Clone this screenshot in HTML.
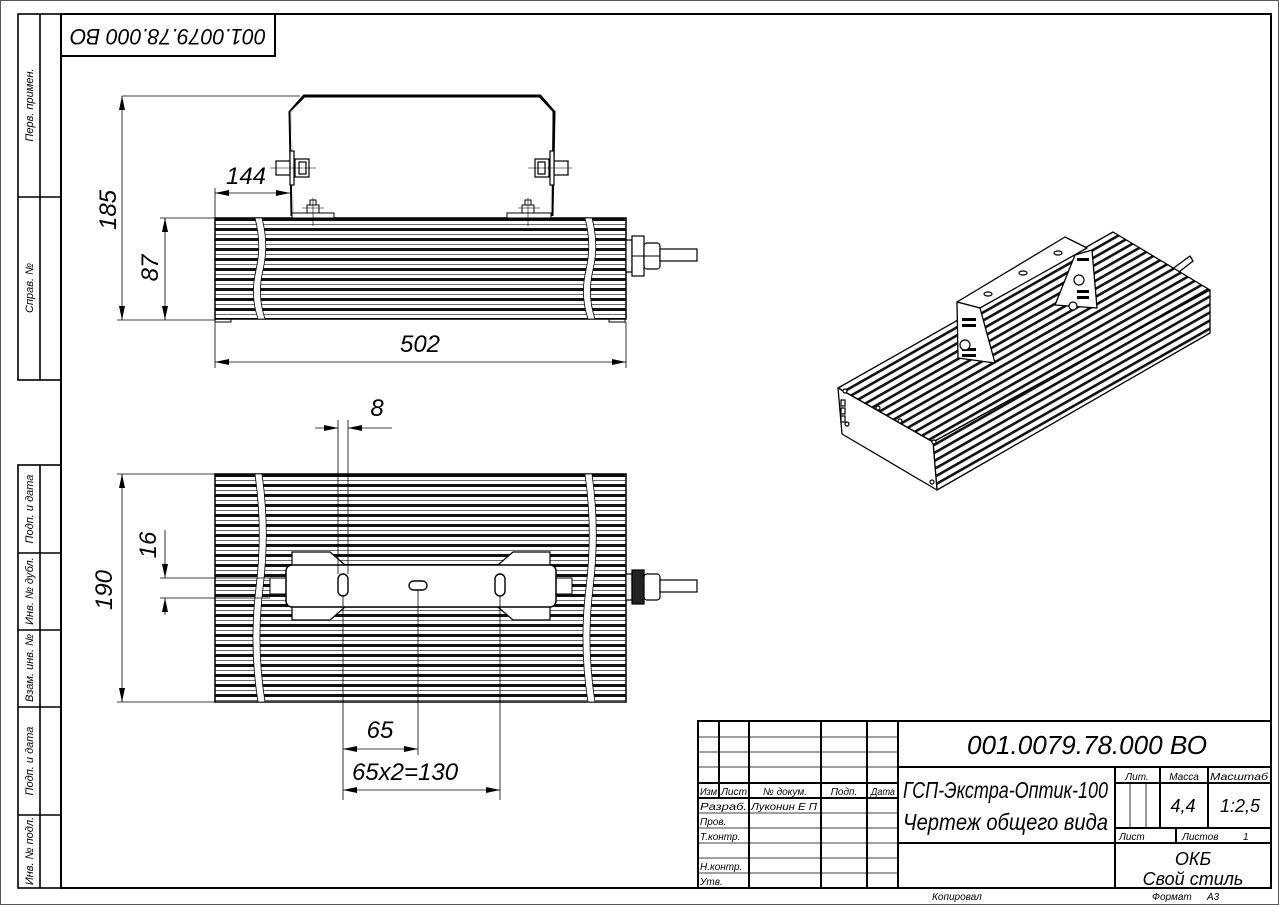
<!DOCTYPE html>
<html><head><meta charset="utf-8"><style>
html,body{margin:0;padding:0;background:#fff;}
svg{display:block;}
text{font-family:"Liberation Sans Narrow","Liberation Sans",sans-serif;font-style:italic;fill:#000;}
</style></head><body>
<svg width="1279" height="905" viewBox="0 0 1279 905" xmlns="http://www.w3.org/2000/svg">
<defs>
<pattern id="fins" x="0" y="218" width="10" height="10" patternUnits="userSpaceOnUse">
<rect width="10" height="10" fill="#fff"/><rect y="0" width="10" height="3" fill="#111"/><rect y="6" width="10" height="0.8" fill="#444"/>
</pattern>
<pattern id="fins2" x="0" y="474" width="10" height="10" patternUnits="userSpaceOnUse">
<rect width="10" height="10" fill="#fff"/><rect y="0" width="10" height="3" fill="#111"/><rect y="6" width="10" height="0.8" fill="#444"/>
</pattern>
<pattern id="iso" width="7" height="7" patternUnits="userSpaceOnUse" patternTransform="rotate(-29.6)">
<rect width="7" height="7" fill="#fff"/><rect width="7" height="2.6" fill="#111"/>
</pattern>
</defs>
<rect x="0.5" y="0.5" width="1278" height="904" fill="none" stroke="#555"/>
<rect x="61" y="14" width="1210" height="874" fill="none" stroke="#000" stroke-width="2"/>
<g stroke="#000" stroke-width="1.6" fill="none">
<rect x="18" y="14" width="43" height="366"/>
<line x1="40" y1="14" x2="40" y2="380"/>
<line x1="18" y1="197" x2="61" y2="197"/>
<rect x="18" y="465" width="43" height="423"/>
<line x1="40" y1="465" x2="40" y2="888"/>
<line x1="18" y1="553" x2="61" y2="553"/>
<line x1="18" y1="630" x2="61" y2="630"/>
<line x1="18" y1="707" x2="61" y2="707"/>
<line x1="18" y1="815" x2="61" y2="815"/>
</g>
<g font-size="11">
<text transform="translate(33,105) rotate(-90)" text-anchor="middle">Перв. примен.</text>
<text transform="translate(33,288) rotate(-90)" text-anchor="middle">Справ. №</text>
<text transform="translate(33,509) rotate(-90)" text-anchor="middle">Подп. и дата</text>
<text transform="translate(33,591) rotate(-90)" text-anchor="middle">Инв. № дубл.</text>
<text transform="translate(33,668) rotate(-90)" text-anchor="middle">Взам. инв. №</text>
<text transform="translate(33,761) rotate(-90)" text-anchor="middle">Подп. и дата</text>
<text transform="translate(33,851) rotate(-90)" text-anchor="middle">Инв. № подл.</text>
</g>
<rect x="61" y="14" width="214" height="42" fill="none" stroke="#000" stroke-width="2"/>
<text transform="translate(168,35) rotate(180)" text-anchor="middle" dominant-baseline="middle" font-size="22" textLength="196" lengthAdjust="spacingAndGlyphs">001.0079.78.000 ВО</text>

<!-- SIDE VIEW -->
<rect x="215" y="218" width="411" height="101" fill="url(#fins)" stroke="#000" stroke-width="1.5"/>
<path d="M255 218 Q262 245 256 270 Q250 295 258 319 L265 319 Q257 295 263 270 Q269 245 262 218 Z" fill="#fff" stroke="#000" stroke-width="0.8"/>
<path d="M585 218 Q592 245 586 270 Q580 295 588 319 L595 319 Q587 295 593 270 Q599 245 592 218 Z" fill="#fff" stroke="#000" stroke-width="0.8"/>
<rect x="215" y="319" width="16" height="3" fill="none" stroke="#000"/>
<rect x="609" y="319" width="16" height="3" fill="none" stroke="#000"/>
<path d="M292 216 L290 112 L304 96 L540 96 L554 112 L552 216" fill="none" stroke="#000" stroke-width="3"/>
<path d="M293 216 L291 112 L305 98 L539 98 L552 112 L551 216" fill="none" stroke="#fff" stroke-width="1"/>
<rect x="292" y="213" width="42" height="5" fill="#fff" stroke="#000"/>
<rect x="507" y="213" width="44" height="5" fill="#fff" stroke="#000"/>
<rect x="307" y="205" width="12" height="8" fill="#fff" stroke="#000"/><rect x="310" y="200" width="6" height="5" fill="#fff" stroke="#000"/>
<rect x="522" y="205" width="12" height="8" fill="#fff" stroke="#000"/><rect x="525" y="200" width="6" height="5" fill="#fff" stroke="#000"/>
<g stroke="#000" stroke-width="0.6"><line x1="313" y1="198" x2="313" y2="226"/><line x1="302" y1="208" x2="324" y2="208"/><line x1="528" y1="198" x2="528" y2="226"/><line x1="518" y1="208" x2="540" y2="208"/></g>
<g fill="#fff" stroke="#000" stroke-width="1.2">
<rect x="276" y="161" width="14" height="14"/><rect x="290" y="151" width="4" height="34"/><rect x="295" y="159" width="14" height="18"/><rect x="299" y="162" width="7" height="12"/>
<rect x="554" y="161" width="14" height="14"/><rect x="550" y="151" width="4" height="34"/><rect x="535" y="159" width="14" height="18"/><rect x="538" y="162" width="7" height="12"/>
</g>
<g stroke="#000" stroke-width="0.6"><line x1="270" y1="168" x2="316" y2="168"/><line x1="528" y1="168" x2="572" y2="168"/></g>
<g fill="#fff" stroke="#000" stroke-width="1.2">
<rect x="626" y="240" width="6" height="32"/><rect x="632" y="236" width="12" height="40"/><rect x="644" y="243" width="16" height="26" rx="3"/><rect x="660" y="249" width="37" height="12"/>
</g>
<line x1="632" y1="256" x2="660" y2="256" stroke="#000"/>
<g stroke="#000" stroke-width="0.8" fill="none">
<line x1="122" y1="96" x2="300" y2="96"/><line x1="117" y1="320" x2="215" y2="320"/>
<line x1="122" y1="96" x2="122" y2="320"/>
<line x1="160" y1="218" x2="215" y2="218"/><line x1="165" y1="218" x2="165" y2="320"/>
<line x1="215" y1="322" x2="215" y2="368"/><line x1="626" y1="322" x2="626" y2="368"/>
<line x1="215" y1="362" x2="626" y2="362"/>
<line x1="215" y1="188" x2="215" y2="218"/><line x1="215" y1="193" x2="290" y2="193"/>
</g>
<g fill="#000">
<path d="M122 96 l-3 14 h6z"/><path d="M122 320 l-3 -14 h6z"/>
<path d="M165 218 l-3 14 h6z"/><path d="M165 320 l-3 -14 h6z"/>
<path d="M215 362 l14 -3 v6z"/><path d="M626 362 l-14 -3 v6z"/>
<path d="M215 193 l14 -3 v6z"/><path d="M290 193 l-14 -3 v6z"/>
</g>
<g font-size="24">
<text transform="translate(116,210) rotate(-90)" text-anchor="middle">185</text>
<text transform="translate(158,268) rotate(-90)" text-anchor="middle">87</text>
<text x="420" y="352" text-anchor="middle">502</text>
<text x="246" y="184" text-anchor="middle">144</text>
</g>

<!-- TOP VIEW -->
<rect x="215" y="474" width="411" height="228" fill="url(#fins2)" stroke="#000" stroke-width="1.5"/>
<path d="M255 474 Q263 530 256 588 Q249 645 258 702 L265 702 Q256 645 263 588 Q270 530 262 474 Z" fill="#fff" stroke="#000" stroke-width="0.8"/>
<path d="M585 474 Q593 530 586 588 Q579 645 588 702 L595 702 Q586 645 593 588 Q600 530 592 474 Z" fill="#fff" stroke="#000" stroke-width="0.8"/>
<path d="M292 552 L330 552 L345 565 L498 565 L513 552 L550 552 L550 620 L513 620 L498 607 L345 607 L330 620 L292 620 Z" fill="#fff" stroke="#000" stroke-width="1.2"/>
<rect x="270" y="578" width="16" height="16" fill="#fff" stroke="#000"/><rect x="556" y="578" width="16" height="16" fill="#fff" stroke="#000"/>
<rect x="286" y="565" width="270" height="42" rx="6" fill="#fff" stroke="#000" stroke-width="1.5"/>
<rect x="338" y="574" width="10" height="22" rx="5" fill="#fff" stroke="#000" stroke-width="1.4"/>
<rect x="409" y="581" width="18" height="9" rx="4.5" fill="#fff" stroke="#000" stroke-width="1.4"/>
<rect x="495" y="574" width="10" height="22" rx="5" fill="#fff" stroke="#000" stroke-width="1.4"/>
<g fill="#fff" stroke="#000" stroke-width="1.2">
<rect x="626" y="574" width="6" height="26"/><rect x="632" y="570" width="12" height="34" fill="#222"/><rect x="644" y="574" width="16" height="26" rx="3"/><rect x="660" y="580" width="37" height="12"/>
</g>
<g stroke="#000" stroke-width="0.8" fill="none">
<line x1="117" y1="474" x2="215" y2="474"/><line x1="117" y1="702" x2="215" y2="702"/>
<line x1="122" y1="474" x2="122" y2="702"/>
<line x1="160" y1="578" x2="270" y2="578"/><line x1="160" y1="598" x2="270" y2="598"/>
<line x1="165" y1="530" x2="165" y2="578"/><line x1="165" y1="598" x2="165" y2="615"/>
<line x1="338" y1="420" x2="338" y2="574"/><line x1="348" y1="420" x2="348" y2="574"/>
<line x1="315" y1="428" x2="338" y2="428"/><line x1="348" y1="428" x2="392" y2="428"/>
<line x1="343" y1="596" x2="343" y2="800"/><line x1="418" y1="590" x2="418" y2="755"/><line x1="500" y1="596" x2="500" y2="800"/>
<line x1="343" y1="749" x2="418" y2="749"/><line x1="343" y1="790" x2="500" y2="790"/>
</g>
<g fill="#000">
<path d="M122 474 l-3 14 h6z"/><path d="M122 702 l-3 -14 h6z"/>
<path d="M165 578 l-3 -14 h6z"/><path d="M165 598 l-3 14 h6z"/>
<path d="M338 428 l-14 -3 v6z"/><path d="M348 428 l14 -3 v6z"/>
<path d="M343 749 l14 -3 v6z"/><path d="M418 749 l-14 -3 v6z"/>
<path d="M343 790 l14 -3 v6z"/><path d="M500 790 l-14 -3 v6z"/>
</g>
<g font-size="24">
<text transform="translate(112,590) rotate(-90)" text-anchor="middle">190</text>
<text transform="translate(156,545) rotate(-90)" text-anchor="middle">16</text>
<text x="377" y="416" text-anchor="middle">8</text>
<text x="380" y="738" text-anchor="middle">65</text>
<text x="405" y="780" text-anchor="middle">65x2=130</text>
</g>

<!-- ISO VIEW -->
<g stroke="#000" stroke-width="1.3" stroke-linejoin="round">
<path d="M1160 278 L1190 256 L1193 261 L1165 283 Z" fill="#fff"/>
<path d="M838 388 L1113 232 L1210 290 L933 442 Z" fill="url(#iso)"/>
<path d="M933 442 L1210 290 L1210 333 L937 490 Z" fill="url(#iso)"/>
<path d="M838 388 L933 442 L937 490 L842 434 Z" fill="#fff"/>
<path d="M957 302 L1065 237 L1087 248 L980 308 Z" fill="#fff"/>
<path d="M957 302 L980 308 L995 363 L958 358 Z" fill="#fff"/>
<path d="M1075 255 L1092 250 L1097 308 L1055 305 Z" fill="#fff"/>
</g>
<g fill="#000">
<rect x="962" y="318" width="14" height="3"/><rect x="962" y="324" width="14" height="3"/><rect x="962" y="348" width="14" height="3"/><rect x="962" y="354" width="14" height="3"/>
<rect x="1077" y="258" width="12" height="3"/><rect x="1077" y="290" width="12" height="3"/><rect x="1077" y="296" width="12" height="3"/>
</g>
<g fill="#fff" stroke="#000" stroke-width="1.2">
<circle cx="965" cy="345" r="5"/><circle cx="1079" cy="280" r="5"/><circle cx="1073" cy="306" r="4"/>
<ellipse cx="988" cy="294" rx="4" ry="2"/><ellipse cx="1023" cy="273" rx="4" ry="2"/><ellipse cx="1058" cy="253" rx="4" ry="2"/>
<circle cx="845" cy="391" r="2"/><circle cx="847" cy="424" r="2"/><circle cx="878" cy="408" r="2"/><circle cx="900" cy="421" r="2"/><circle cx="934" cy="442" r="2"/><circle cx="932" cy="482" r="2"/>
<rect x="841" y="400" width="4" height="6"/><rect x="841" y="408" width="4" height="6"/><rect x="841" y="416" width="4" height="6"/>
</g>

<!-- TITLE BLOCK -->
<g stroke="#000" fill="none">
<rect x="698" y="721" width="573" height="167" stroke-width="2"/>
<g stroke-width="2">
<line x1="719" y1="721" x2="719" y2="798"/><line x1="749" y1="721" x2="749" y2="888"/>
<line x1="821" y1="721" x2="821" y2="888"/><line x1="867" y1="721" x2="867" y2="888"/>
<line x1="898" y1="721" x2="898" y2="888"/>
<line x1="698" y1="798" x2="898" y2="798"/><line x1="698" y1="783" x2="898" y2="783"/>
<line x1="898" y1="767" x2="1271" y2="767"/><line x1="898" y1="843" x2="1271" y2="843"/>
<line x1="1115" y1="767" x2="1115" y2="888"/>
<line x1="1160" y1="767" x2="1160" y2="828"/><line x1="1208" y1="767" x2="1208" y2="828"/>
<line x1="1115" y1="783" x2="1271" y2="783"/><line x1="1115" y1="828" x2="1271" y2="828"/>
<line x1="1176" y1="828" x2="1176" y2="843"/>
</g>
<g stroke-width="0.8">
<line x1="698" y1="737" x2="898" y2="737"/><line x1="698" y1="752" x2="898" y2="752"/><line x1="698" y1="767" x2="898" y2="767"/>
<line x1="698" y1="813" x2="898" y2="813"/><line x1="698" y1="828" x2="898" y2="828"/><line x1="698" y1="843" x2="898" y2="843"/>
<line x1="698" y1="858" x2="898" y2="858"/><line x1="698" y1="873" x2="898" y2="873"/>
<line x1="1130" y1="783" x2="1130" y2="828"/><line x1="1146" y1="783" x2="1146" y2="828"/>
</g>
</g>
<g font-size="10">
<text x="700" y="795" textLength="17" lengthAdjust="spacingAndGlyphs">Изм</text><text x="721" y="795" textLength="26" lengthAdjust="spacingAndGlyphs">Лист</text><text x="785" y="795" text-anchor="middle">№ докум.</text><text x="844" y="795" text-anchor="middle">Подп.</text><text x="871" y="795" textLength="24" lengthAdjust="spacingAndGlyphs">Дата</text>
<text x="700" y="810" textLength="47" lengthAdjust="spacingAndGlyphs">Разраб.</text><text x="751" y="810" textLength="66" lengthAdjust="spacingAndGlyphs">Луконин Е П</text>
<text x="700" y="825">Пров.</text><text x="700" y="840">Т.контр.</text>
<text x="700" y="870">Н.контр.</text><text x="700" y="885">Утв.</text>
<text x="1137" y="780" text-anchor="middle">Лит.</text><text x="1184" y="780" text-anchor="middle">Масса</text><text x="1239" y="780" text-anchor="middle" textLength="58" lengthAdjust="spacingAndGlyphs">Масштаб</text>
<text x="1119" y="840">Лист</text><text x="1182" y="840">Листов</text><text x="1243" y="840">1</text>
<text x="932" y="900">Копировал</text><text x="1152" y="900">Формат</text><text x="1207" y="900">А3</text>
</g>
<g font-size="18">
<text x="1183" y="812" text-anchor="middle">4,4</text><text x="1240" y="812" text-anchor="middle">1:2,5</text>
<text x="1193" y="865" text-anchor="middle">ОКБ</text><text x="1193" y="885" text-anchor="middle">Свой стиль</text>
</g>
<text x="967" y="754" font-size="26" textLength="240" lengthAdjust="spacingAndGlyphs">001.0079.78.000 ВО</text>
<text x="903" y="798" font-size="23" textLength="205" lengthAdjust="spacingAndGlyphs">ГСП-Экстра-Оптик-100</text>
<text x="903" y="830" font-size="23" textLength="205" lengthAdjust="spacingAndGlyphs">Чертеж общего вида</text>
</svg>
</body></html>
